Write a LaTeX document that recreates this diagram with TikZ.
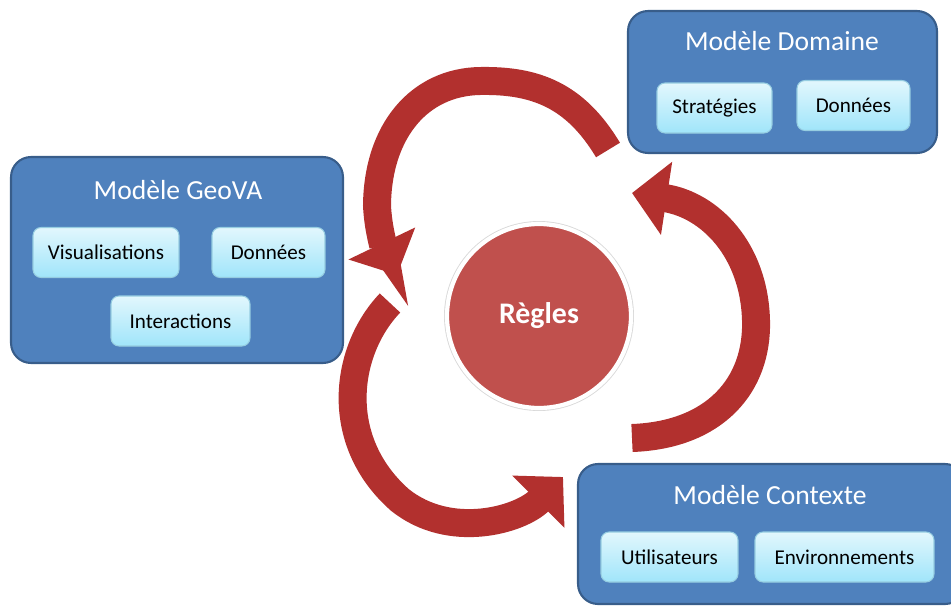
\documentclass[tikz,border=0pt]{standalone}
\usepackage{fontspec}
\setmainfont{Carlito}
\usepackage{tikz}
\usetikzlibrary{arrows.meta, positioning, shadows}

\definecolor{bleu}{RGB}{79,129,189}
\definecolor{bleufonce}{RGB}{56,93,138}
\definecolor{cielhaut}{RGB}{226,247,253}
\definecolor{cielbas}{RGB}{160,229,250}
\definecolor{cielbord}{RGB}{150,205,225}
\definecolor{rouge}{RGB}{192,80,77}
\definecolor{flecherouge}{RGB}{178,48,46}

\begin{document}
\begin{tikzpicture}[x=0.02cm, y=-0.02cm,
    modele/.style={draw=bleufonce, line width=1.2pt, fill=bleu, rounded corners=0.4cm, inner sep=0pt},
    titre/.style={text=white, font=\fontsize{15.7}{19}\selectfont},
    item/.style={draw=cielbord, line width=0.6pt, top color=cielhaut, bottom color=cielbas,
        rounded corners=0.16cm, minimum height=1cm, inner sep=0pt, font=\fontsize{12}{14}\selectfont},
    fleche/.style={draw=flecherouge, line width=0.56cm, -{Triangle[width=1.44cm, length=0.7cm]}}]

    \useasboundingbox (0,0) rectangle (951,606);
    \clip (0,0) rectangle (951,606);

    % Modèle Domaine
    \node[modele, minimum width=6.18cm, minimum height=2.84cm] (domaine) at (782.5,82) {};
    \node[titre] (tdomaine) at (782,41) {Modèle Domaine};
    \node[item, minimum width=2.3cm] (strategies) at (714.5,108) {Stratégies};
    \node[item, minimum width=2.26cm] (donneesd) at (853.5,105.5) {Données};

    % Modèle GeoVA
    \node[modele, minimum width=6.64cm, minimum height=4.12cm] (geova) at (177,260) {};
    \node[titre] (tgeova) at (178,190) {Modèle GeoVA};
    \node[item, minimum width=2.92cm] (visu) at (106,252.5) {Visualisations};
    \node[item, minimum width=2.26cm] (donneesg) at (268.5,252.5) {Données};
    \node[item, minimum width=2.78cm] (inter) at (180.5,321) {Interactions};

    % Modèle Contexte
    \node[modele, minimum width=7.74cm, minimum height=2.8cm] (contexte) at (771.5,534) {};
    \node[titre] (tcontexte) at (770,495) {Modèle Contexte};
    \node[item, minimum width=2.74cm] (utilisateurs) at (669.5,557) {Utilisateurs};
    \node[item, minimum width=3.58cm] (environnements) at (844.5,557) {Environnements};

    % Règles
    \node[circle, fill=rouge, draw=white, line width=2.4pt, minimum size=3.68cm,
        preaction={draw=black!15, line width=3.4pt},
        text=white, font=\bfseries\fontsize{17}{20}\selectfont] (regles) at (539,316) {Règles};

    % flèches
    \coordinate (d1) at (608,150);
    \coordinate (f1) at (397,275);
    \coordinate (d2) at (390,303);
    \coordinate (f2) at (563,477);
    \coordinate (d3) at (632,438);
    \coordinate (f3) at (632,193);
    \draw[fleche] (d1) .. controls (575,95) and (535,80) .. (480,81)
        .. controls (420,82) and (378,130) .. (377,205)
        .. controls (378,230) and (385,250) .. (f1);
    \draw[fleche] (d2) .. controls (345,350) and (332,440) .. (400,500)
        .. controls (450,540) and (520,520) .. (f2);
    \draw[fleche] (d3) .. controls (715,435) and (758,385) .. (756,320)
        .. controls (754,250) and (710,205) .. (f3);
\end{tikzpicture}
\end{document}
